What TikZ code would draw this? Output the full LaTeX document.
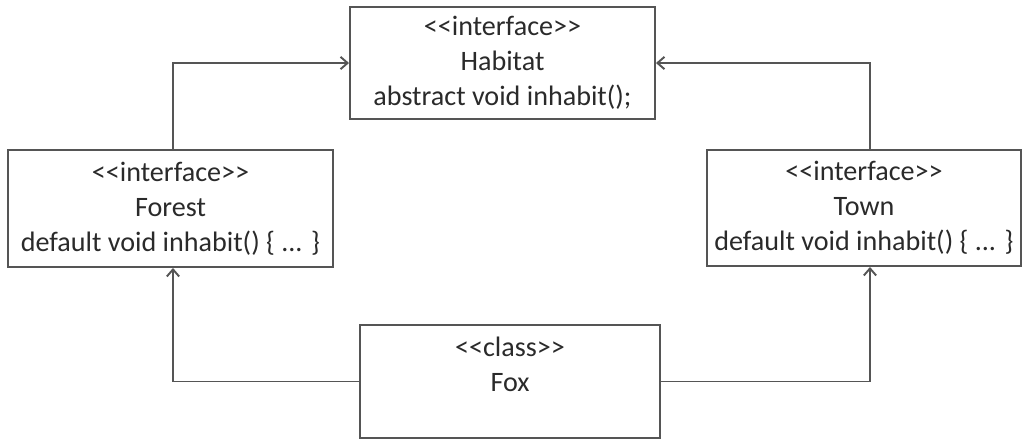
\documentclass[tikz,border=0pt]{standalone}
\usepackage{fontspec}
\setmainfont{Carlito}
\usepackage{xcolor}
\usetikzlibrary{arrows.meta, positioning}
\definecolor{linegray}{HTML}{555555}
\definecolor{textgray}{HTML}{2a2a2a}

\begin{document}
\begin{tikzpicture}[thick, font=\fontsize{16}{20}\selectfont]
    % Define styles
    \tikzstyle{umlbox} = [draw=linegray, line width=1.1pt, rectangle, align=center, text=textgray, inner sep=0pt]
    \tikzstyle{realize} = [-{Straight Barb[length=4pt, width=7pt]}, line width=1.1pt, linegray]

    \useasboundingbox (0,0) rectangle (20.48,-8.82);

    % INTERFACES
    \node (habitat) [umlbox, minimum width=6.1cm, minimum height=2.24cm] at (10.05,-1.26)
        {<{}<interface>{}>\\Habitat\\abstract void inhabit();};
    \node (forest) [umlbox, minimum width=6.5cm, minimum height=2.34cm] at (3.41,-4.17)
        {<{}<interface>{}>\\Forest\\default void inhabit() \{ ... \}};
    \node (town) [umlbox, minimum width=6.28cm, minimum height=2.32cm] at (17.28,-4.16)
        {<{}<interface>{}>\\Town\\default void inhabit() \{ ... \}};

    % CLASS
    \node (fox) [umlbox, minimum width=6.0cm, minimum height=2.26cm] at (10.2,-7.63)
        {<{}<class>{}>\\Fox\\~};

    % CONNECTIONS
    \draw[realize] ([xshift=0.05cm]forest.north) |- (habitat.west);
    \draw[realize] ([xshift=0.12cm]town.north) |- (habitat.east);
    \draw[realize] (fox.west) -| ([xshift=0.05cm]forest.south);
    \draw[realize] (fox.east) -| ([xshift=0.12cm]town.south);

\end{tikzpicture}
\end{document}
